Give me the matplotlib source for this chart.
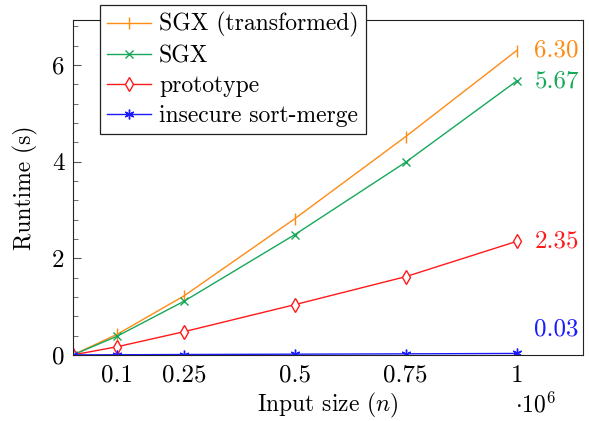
import matplotlib
matplotlib.use("Agg")
import matplotlib.pyplot as plt

plt.rcParams["font.family"] = "cmr10"
plt.rcParams["mathtext.fontset"] = "cm"
plt.rcParams["axes.formatter.use_mathtext"] = True

fontsize = 17
tfontsize = 18

sizes = [0, 0.1, 0.25, 0.5, 0.75, 1]
xtick_labels = ["0.1", "0.25", "0.5", "0.75", "1"]

sgx_transformed = [0, 0.43, 1.22, 2.82, 4.52, 6.30]
sgx = [0, 0.39, 1.11, 2.49, 3.99, 5.67]
prototype = [0, 0.17, 0.48, 1.04, 1.62, 2.35]
insecure = [0, 0.003, 0.008, 0.015, 0.022, 0.03]

# name, values, color, marker, markersize, end label, label y
series = [
    ("SGX (transformed)", sgx_transformed, "#ff8a14", "|", 9, "6.30", 6.30),
    ("SGX", sgx, "#16a85a", "x", 6, "5.67", 5.67),
    ("prototype", prototype, "#ff1a1a", "d", 7, "2.35", 2.35),
    ("insecure sort-merge", insecure, "#1a1aff", (6, 2, 0), 7, "0.03", 0.52),
]

fig = plt.figure(figsize=(5.89, 4.21), dpi=100)
ax = fig.add_axes([0.124, 0.157, 0.866, 0.795])

for name, vals, color, marker, ms, label, ypos in series:
    face = "white" if marker == "d" else color
    ax.plot(sizes, vals, color=color, linewidth=1.0, marker=marker,
            markersize=ms, markeredgewidth=1.0,
            markerfacecolor=face, markeredgecolor=color, label=name)
    ax.text(1.04, ypos, label, color=color, fontsize=tfontsize,
            ha="left", va="center")

ax.set_xlim(0, 1.15)
ax.set_ylim(0, 6.93)

ax.set_xticks(sizes[1:])
ax.set_xticklabels(xtick_labels)
ax.set_yticks([0, 2, 4, 6])
ax.set_yticklabels(["0", "2", "4", "6"])
ax.set_yticks([i * 0.4 for i in range(18)], minor=True)
ax.tick_params(axis="x", length=0, labelsize=tfontsize, pad=7)
ax.tick_params(axis="y", which="major", direction="in", length=6,
               labelsize=tfontsize, width=0.8, color="#555555", pad=6)
ax.tick_params(axis="y", which="minor", direction="in", length=3.5,
               width=0.6, color="#555555")

for s in ax.spines.values():
    s.set_linewidth(0.8)
    s.set_color("#222222")

ax.set_xlabel("Input size ($n$)", fontsize=fontsize, labelpad=3)
ax.set_ylabel("Runtime (s)", fontsize=fontsize, labelpad=10)
ax.text(0.906, -0.15, r"$\cdot 10^6$", transform=ax.transAxes,
        fontsize=fontsize, ha="center", va="center")

leg = ax.legend(loc="upper left", bbox_to_anchor=(0.053, 1.045), numpoints=1,
                fontsize=fontsize, frameon=True, fancybox=False,
                framealpha=1, edgecolor="#222222", borderpad=0.3,
                labelspacing=0.33, handlelength=1.85, handletextpad=0.35,
                borderaxespad=0)
leg.get_frame().set_linewidth(0.9)

fig.savefig("out.png", dpi=100)
